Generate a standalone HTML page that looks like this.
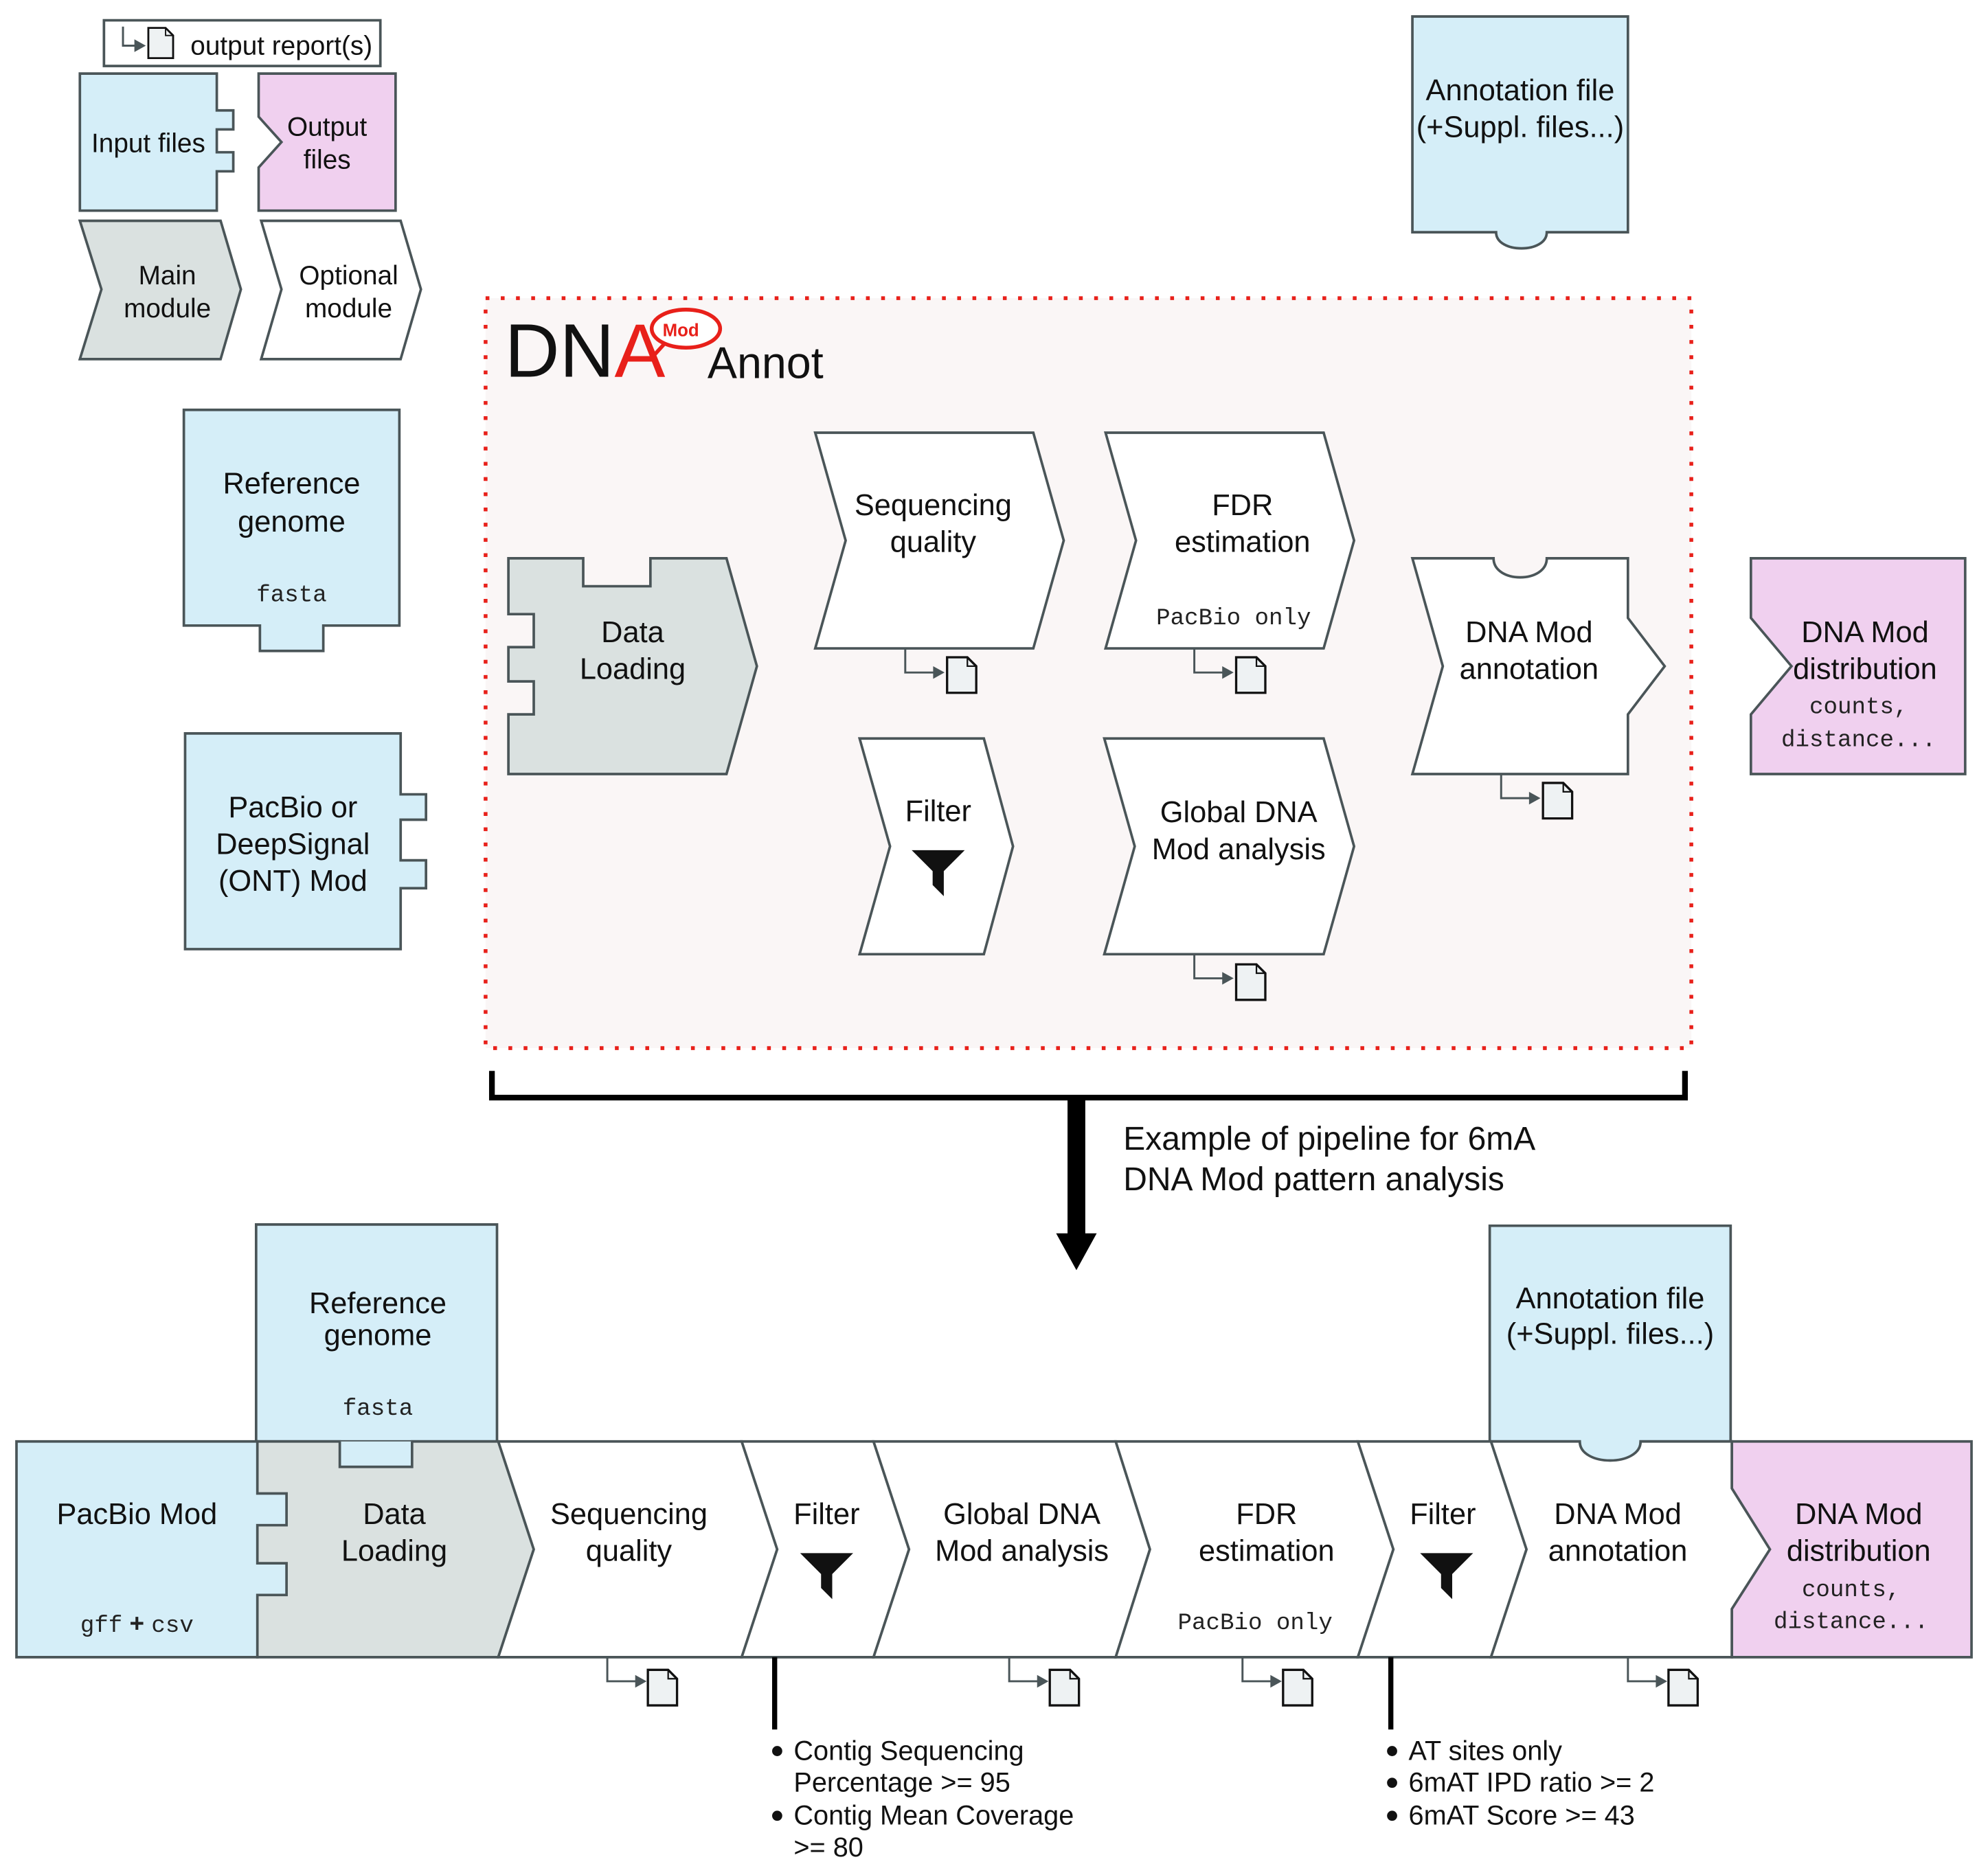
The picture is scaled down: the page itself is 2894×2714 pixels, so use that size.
<!DOCTYPE html>
<html><head><meta charset="utf-8"><style>html,body{margin:0;padding:0;background:#fff}svg{display:block}</style></head>
<body>
<svg xmlns="http://www.w3.org/2000/svg" width="2894" height="2714" viewBox="0 0 1568 1469" preserveAspectRatio="none" font-family="Liberation Sans, sans-serif">
<defs>
<g id="doc"><path d="M0,0 H16 L23,7 V28 H0 Z" fill="#eef2f3" stroke="#111" stroke-width="1.8"/><path d="M16,0 V7 H23" fill="none" stroke="#111" stroke-width="1.2"/></g>
<g id="arr"><path d="M0,0 V19 H24" fill="none" stroke="#4a5558" stroke-width="1.6"/><path d="M22,14 L31,19 L22,24 Z" fill="#4a5558"/></g>
<g id="funnel"><path d="M-19,0 L19,0 L4,15 L4,33 L-4,25 L-4,15 Z" fill="#111"/></g>
</defs>
<g stroke="#4a5558" stroke-width="2">
<rect x="82" y="16" width="218" height="36" fill="#fff"/>
<path d="M63,58 H171 V87 H184 V102 H171 V120 H184 V135 H171 V166 H63 Z" fill="#d5eef8"/>
<path d="M204,58 H312 V166 H204 V132 L222,112 L204,92 Z" fill="#f0d0ef"/>
<path d="M63,174 H174 L190,228 L174,283 H63 L80,228 Z" fill="#dae1e0"/>
<path d="M206,174 H316 L332,228 L316,283 H206 L222,228 Z" fill="#fff"/>
<path d="M145,323 H315 V493 H255 V513 H205 V493 H145 Z" fill="#d5eef8"/>
<path d="M146,578 H316 V626 H336 V646 H316 V678 H336 V700 H316 V748 H146 Z" fill="#d5eef8"/>
<path d="M1114,13 H1284 V183 H1220 C1220,200 1180,200 1180,183 H1114 Z" fill="#d5eef8"/>
</g>
<path d="M97,21 V36 H108" fill="none" stroke="#4a5558" stroke-width="1.6"/><path d="M106,31 L115,36 L106,41 Z" fill="#4a5558"/>
<use href="#doc" transform="translate(117,22) scale(0.85)"/>
<g font-size="21" fill="#111" text-anchor="middle">
<text x="222" y="43">output report(s)</text>
<text x="117" y="120">Input files</text>
<text x="258" y="107">Output</text><text x="258" y="133">files</text>
<text x="132" y="224">Main</text><text x="132" y="250">module</text>
<text x="275" y="224">Optional</text><text x="275" y="250">module</text>
<text x="230" y="389" font-size="23.5">Reference</text><text x="230" y="419" font-size="23.5">genome</text>
<text x="231" y="644" font-size="23.5">PacBio or</text><text x="231" y="673" font-size="23.5">DeepSignal</text><text x="231" y="702" font-size="23.5">(ONT) Mod</text>
<text x="1199" y="79" font-size="23.5">Annotation file</text><text x="1199" y="108" font-size="23.5">(+Suppl. files...)</text>
</g>
<text x="230" y="474" font-family="Liberation Mono, monospace" font-size="18.5" text-anchor="middle" fill="#222">fasta</text>
<rect x="383" y="235" width="951" height="591" fill="#faf6f6" stroke="#e8201a" stroke-width="3" stroke-dasharray="3,9"/>
<text x="398" y="297" font-size="60" fill="#111">DN<tspan fill="#e8201a">A</tspan></text>
<ellipse cx="541" cy="259" rx="27" ry="15" fill="#fff" stroke="#e8201a" stroke-width="3"/>
<path d="M524,271 L514,282" stroke="#e8201a" stroke-width="3"/>
<text x="537" y="265" font-size="14" font-weight="bold" fill="#e8201a" text-anchor="middle">Mod</text>
<text x="558" y="298" font-size="35" fill="#111">Annot</text>
<g stroke="#4a5558" stroke-width="2">
<path d="M401,440 H460 V462 H513 V440 H573 L597,525 L573,610 H401 V563 H421 V537 H401 V510 H421 V484 H401 Z" fill="#dae1e0"/>
<path d="M643,341 H815 L839,426 L815,511 H643 L667,426 Z" fill="#fff"/>
<path d="M872,341 H1044 L1068,426 L1044,511 H872 L896,426 Z" fill="#fff"/>
<path d="M678,582 H776 L799,667 L776,752 H678 L702,667 Z" fill="#fff"/>
<path d="M871,582 H1044 L1068,667 L1044,752 H871 L895,667 Z" fill="#fff"/>
<path d="M1114,440 H1178 C1178,460 1220,460 1220,440 H1284 V487 L1313,525 L1284,563 V610 H1114 L1138,525 Z" fill="#fff"/>
<path d="M1381,440 H1550 V610 H1381 V563 L1413,525 L1381,487 Z" fill="#f0d0ef"/>
</g>
<g font-size="23.5" fill="#111" text-anchor="middle">
<text x="499" y="506">Data</text><text x="499" y="535">Loading</text>
<text x="736" y="406">Sequencing</text><text x="736" y="435">quality</text>
<text x="980" y="406">FDR</text><text x="980" y="435">estimation</text>
<text x="740" y="647">Filter</text>
<text x="977" y="648">Global DNA</text><text x="977" y="677">Mod analysis</text>
<text x="1206" y="506">DNA Mod</text><text x="1206" y="535">annotation</text>
<text x="1471" y="506">DNA Mod</text><text x="1471" y="535">distribution</text>
</g>
<g font-family="Liberation Mono, monospace" font-size="18.5" fill="#222" text-anchor="middle">
<text x="973" y="492">PacBio only</text>
<text x="1466" y="562">counts,</text><text x="1466" y="588">distance...</text>
</g>
<use href="#funnel" transform="translate(740,670) scale(1.1)"/>
<use href="#arr" transform="translate(714,511)"/><use href="#doc" transform="translate(747,518)"/>
<use href="#arr" transform="translate(942,511)"/><use href="#doc" transform="translate(975,518)"/>
<use href="#arr" transform="translate(942,752)"/><use href="#doc" transform="translate(975,760)"/>
<use href="#arr" transform="translate(1184,610)"/><use href="#doc" transform="translate(1217,617)"/>
<path d="M388,844 V865 H1329 V844" fill="none" stroke="#000" stroke-width="4.5"/>
<rect x="842" y="865" width="14" height="108" fill="#000"/>
<path d="M833,972 H865 L849,1001 Z" fill="#000"/>
<text x="886" y="906" font-size="26" fill="#111">Example of pipeline for 6mA</text>
<text x="886" y="938" font-size="26" fill="#111">DNA Mod pattern analysis</text>
<g stroke="#4a5558" stroke-width="2">
<path d="M202,965 H392 V1136 H325 V1156 H268 V1136 H202 Z" fill="#d5eef8"/>
<path d="M1175,966 H1365 V1136 H1294 C1294,1158 1246,1158 1246,1136 H1175 Z" fill="#d5eef8"/>
<path d="M203,1136 H393 L421,1221 L393,1306 H203 Z" fill="#dae1e0"/>
<path d="M268,1136 V1156 H325 V1136" fill="#d5eef8"/>
<path d="M13,1136 H203 V1177 H226 V1202 H203 V1232 H226 V1257 H203 V1306 H13 Z" fill="#d5eef8"/>
<path d="M393,1136 H585 L613,1221 L585,1306 H393 L421,1221 Z" fill="#fff"/>
<path d="M585,1136 H689 L717,1221 L689,1306 H585 L613,1221 Z" fill="#fff"/>
<path d="M689,1136 H880 L907,1221 L880,1306 H689 L717,1221 Z" fill="#fff"/>
<path d="M880,1136 H1071 L1099,1221 L1071,1306 H880 L907,1221 Z" fill="#fff"/>
<path d="M1071,1136 H1176 L1204,1221 L1176,1306 H1071 L1099,1221 Z" fill="#fff"/>
<path d="M1176,1136 H1246 C1246,1156 1294,1156 1294,1136 H1366 V1173 L1396,1221 L1366,1268 V1306 H1176 L1204,1221 Z" fill="#fff"/>
<path d="M1366,1136 H1555 V1306 H1366 V1268 L1396,1221 L1366,1173 Z" fill="#f0d0ef"/>
</g>
<g font-size="23.5" fill="#111" text-anchor="middle">
<text x="298" y="1035">Reference</text><text x="298" y="1060">genome</text>
<text x="1270" y="1031">Annotation file</text><text x="1270" y="1059">(+Suppl. files...)</text>
<text x="108" y="1201">PacBio Mod</text>
<text x="311" y="1201">Data</text><text x="311" y="1230">Loading</text>
<text x="496" y="1201">Sequencing</text><text x="496" y="1230">quality</text>
<text x="652" y="1201">Filter</text>
<text x="806" y="1201">Global DNA</text><text x="806" y="1230">Mod analysis</text>
<text x="999" y="1201">FDR</text><text x="999" y="1230">estimation</text>
<text x="1138" y="1201">Filter</text>
<text x="1276" y="1201">DNA Mod</text><text x="1276" y="1230">annotation</text>
<text x="1466" y="1201">DNA Mod</text><text x="1466" y="1230">distribution</text>
</g>
<g font-family="Liberation Mono, monospace" font-size="18.5" fill="#222" text-anchor="middle">
<text x="298" y="1115">fasta</text>
<text x="108" y="1286">gff<tspan font-family="Liberation Sans, sans-serif" font-weight="bold" font-size="20"> + </tspan>csv</text>
<text x="990" y="1284">PacBio only</text>
<text x="1460" y="1258">counts,</text><text x="1460" y="1283">distance...</text>
</g>
<use href="#funnel" transform="translate(652,1224) scale(1.1)"/>
<use href="#funnel" transform="translate(1141,1224) scale(1.1)"/>
<use href="#arr" transform="translate(479,1306)"/><use href="#doc" transform="translate(511,1316)"/>
<use href="#arr" transform="translate(796,1306)"/><use href="#doc" transform="translate(828,1316)"/>
<use href="#arr" transform="translate(980,1306)"/><use href="#doc" transform="translate(1012,1316)"/>
<use href="#arr" transform="translate(1284,1306)"/><use href="#doc" transform="translate(1316,1316)"/>
<rect x="609" y="1306" width="4" height="57" fill="#000"/>
<rect x="1095" y="1306" width="4" height="57" fill="#000"/>
<g font-size="21.5" fill="#111">
<circle cx="613" cy="1380" r="4"/><text x="626" y="1387">Contig Sequencing</text>
<text x="626" y="1412">Percentage &gt;= 95</text>
<circle cx="613" cy="1431" r="4"/><text x="626" y="1438">Contig Mean Coverage</text>
<text x="626" y="1463">&gt;= 80</text>
<circle cx="1098" cy="1380" r="4"/><text x="1111" y="1387">AT sites only</text>
<circle cx="1098" cy="1405" r="4"/><text x="1111" y="1412">6mAT IPD ratio &gt;= 2</text>
<circle cx="1098" cy="1431" r="4"/><text x="1111" y="1438">6mAT Score &gt;= 43</text>
</g>
</svg>
</body></html>
